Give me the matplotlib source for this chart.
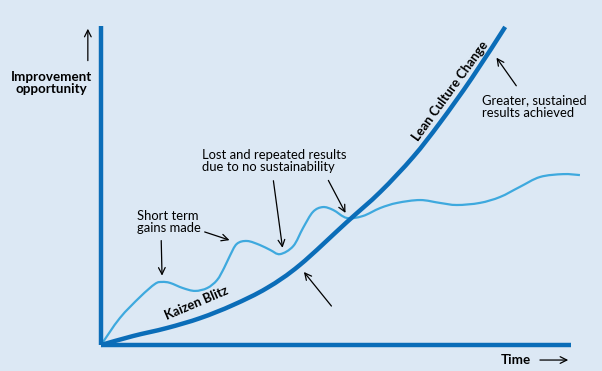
import matplotlib.pyplot as plt
import numpy as np
from matplotlib.path import Path
from matplotlib.patches import PathPatch

# Kaizen Blitz results (light, wavy line) - time vs improvement, 0-100 scale
kaizen_t = [0, 4.0, 8.3, 11.5, 13.0, 14.7, 17.4, 20.0, 22.6, 24.7, 26.2, 27.4, 28.9,
            31.1, 33.8, 36.0, 38.1, 40.9, 43.0, 45.1, 47.2, 49.4, 52.3, 55.7, 59.4,
            63.0, 67.9, 72.1, 75.7, 80.6, 84.9, 89.1, 93.4, 98.3, 101.9]
kaizen_v = [0, 8.4, 15.0, 19.1, 19.7, 19.4, 17.8, 16.9, 17.8, 20.3, 24.1, 27.8, 31.6,
            32.5, 31.25, 29.7, 28.4, 30.9, 36.6, 41.6, 43.1, 42.2, 39.7, 40.3, 42.8,
            44.4, 45.3, 44.4, 43.75, 44.4, 46.25, 49.4, 52.5, 53.4, 53.1]

# Lean culture change (thick curve)
lean_t = [0, 6.8, 14.0, 21.1, 28.1, 35.3, 42.3, 52.3, 59.4, 66.4, 72.1, 78.9, 86.0]
lean_v = [0, 2.8, 5.3, 8.4, 12.5, 17.8, 25.0, 38.4, 47.8, 58.75, 69.4, 83.4, 99.4]

bg = "#dce8f4"
dark = "#0b6db8"
light = "#3ea9de"
font = "Lato"


def smooth_path(xs, ys):
    # bezier segments through the read points (catmull-rom tangents)
    p = np.column_stack([xs, ys])
    verts, codes = [p[0]], [Path.MOVETO]
    for i in range(len(p) - 1):
        p0 = p[max(i - 1, 0)]
        p3 = p[min(i + 2, len(p) - 1)]
        c1 = p[i] + (p[i + 1] - p0) / 6
        c2 = p[i + 1] - (p3 - p[i]) / 6
        verts += [c1, c2, p[i + 1]]
        codes += [Path.CURVE4] * 3
    return Path(verts, codes)


fig = plt.figure(figsize=(6.02, 3.71), dpi=100, facecolor=bg)
ax = fig.add_axes([0, 0, 1, 1])
ax.set_facecolor(bg)
ax.set_xlim(-101 / 4.7, 501 / 4.7)
ax.set_ylim(-26 / 3.2, 345 / 3.2)
ax.axis("off")

# axes lines
ax.plot([0, 0], [0, 99.7], color=dark, lw=3.2, solid_capstyle="butt")
ax.plot([0, 100], [0, 0], color=dark, lw=3.2, solid_capstyle="butt")

ax.add_patch(PathPatch(smooth_path(kaizen_t, kaizen_v), fc="none", ec=light, lw=1.6))
ax.add_patch(PathPatch(smooth_path(lean_t, lean_v), fc="none", ec=dark, lw=3.2,
                       capstyle="butt"))

arrow = dict(arrowstyle="->", color="black", lw=0.9, mutation_scale=12)

# axis labels
ax.text(-10.5, 82, "Improvement\nopportunity", ha="center", va="center",
        fontsize=9.6, fontweight="bold", family=font, linespacing=1.0)
ax.annotate("", xy=(-2.8, 99.7), xytext=(-2.8, 88), arrowprops=arrow)
ax.text(91.5, -4.7, "Time", ha="right", va="center", fontsize=9.6,
        fontweight="bold", family=font)
ax.annotate("", xy=(100, -4.7), xytext=(92.8, -4.7), arrowprops=arrow)

# curve labels
ax.text(20.4, 13.0, "Kaizen Blitz", rotation=23, ha="center", va="center",
        fontsize=9.3, fontweight="bold", family=font)
ax.text(74.4, 79.5, "Lean Culture Change", rotation=54, ha="center", va="center",
        fontsize=9.3, fontweight="bold", family=font)

# annotations
ax.text(7.7, 38.5, "Short term\ngains made", ha="left", va="center",
        fontsize=9.4, family=font, linespacing=1.05)
ax.annotate("", xy=(13.0, 20.8), xytext=(12.8, 33.5), arrowprops=arrow)
ax.annotate("", xy=(27.9, 32.5), xytext=(21.5, 35.6), arrowprops=arrow)

ax.text(21.5, 57.5, "Lost and repeated results\ndue to no sustainability",
        ha="left", va="center", fontsize=9.4, family=font, linespacing=1.05)
ax.annotate("", xy=(38.7, 29.5), xytext=(36.6, 52.2), arrowprops=arrow)
ax.annotate("", xy=(52.3, 40.5), xytext=(48.1, 52.2), arrowprops=arrow)
ax.annotate("", xy=(42.8, 23.5), xytext=(49.4, 11.5), arrowprops=arrow)

ax.text(81.0, 74.5, "Greater, sustained\nresults achieved", ha="left", va="center",
        fontsize=9.4, family=font, linespacing=1.05)
ax.annotate("", xy=(83.8, 90.5), xytext=(88.7, 80.3), arrowprops=arrow)

fig.savefig("out.png", dpi=100, facecolor=bg)
